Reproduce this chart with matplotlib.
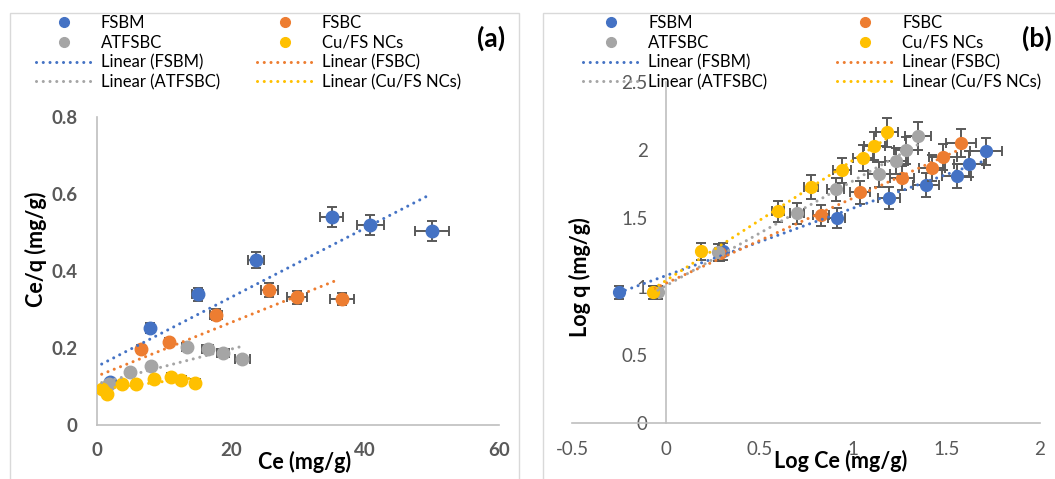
import numpy as np
import matplotlib
matplotlib.use('Agg')
import matplotlib.pyplot as plt
from matplotlib.lines import Line2D
from matplotlib.patches import Rectangle

plt.rcParams['font.family'] = ['Lato', 'DejaVu Sans']

W, H = 1055, 479

series_names = ['FSBM', 'FSBC', 'ATFSBC', 'Cu/FS NCs']
colours = ['#4472C4', '#ED7D31', '#A5A5A5', '#FFC000']
err_colour = '#595959'
err_frac = 0.05  # 5 % error bars, as in the sheet

###########
# (a) Ce vs Ce/q
###########
ce_fsbm = [1.9, 7.9, 15.0, 23.8, 35.0, 40.8, 50.0]
ceq_fsbm = [0.112, 0.252, 0.340, 0.429, 0.540, 0.519, 0.504]
ce_fsbc = [6.5, 10.7, 17.7, 25.7, 29.8, 36.6]
ceq_fsbc = [0.197, 0.216, 0.286, 0.351, 0.332, 0.327]
ce_atfsbc = [1.8, 4.9, 8.0, 13.4, 16.5, 18.8, 21.7]
ceq_atfsbc = [0.106, 0.138, 0.153, 0.203, 0.197, 0.187, 0.171]
ce_cufs = [0.7, 1.5, 3.7, 5.8, 8.5, 11.0, 12.6, 14.7]
ceq_cufs = [0.094, 0.081, 0.106, 0.106, 0.119, 0.125, 0.117, 0.109]

# trendlines
trend_slope_a = [0.00898, 0.00696, 0.0045, 0.0021]
trend_icpt_a = [0.152, 0.127, 0.107, 0.092]
trend_start_a = [0.7, 0.7, 0.7, 0.7]
trend_end_a = [49.9, 35.9, 21.7, 14.7]

xa_ticks = [0, 20, 40, 60]
xa_ticklabels = ['0', '20', '40', '60']
ya_ticks = [0, 0.2, 0.4, 0.6, 0.8]
ya_ticklabels = ['0', '0.2', '0.4', '0.6', '0.8']

###########
# (b) Log Ce vs Log q
###########
logce_fsbm = [-0.249, 0.307, 0.915, 1.193, 1.390, 1.556, 1.620, 1.712]
logq_fsbm = [0.960, 1.260, 1.502, 1.648, 1.744, 1.810, 1.897, 1.993]
logce_fsbc = [-0.06, 0.29, 0.830, 1.039, 1.263, 1.423, 1.482, 1.578]
logq_fsbc = [0.960, 1.250, 1.524, 1.692, 1.795, 1.868, 1.949, 2.051]
logce_atfsbc = [-0.041, 0.280, 0.702, 0.910, 1.140, 1.231, 1.284, 1.348]
logq_atfsbc = [0.960, 1.253, 1.538, 1.714, 1.824, 1.919, 2.000, 2.103]
logce_cufs = [-0.067, 0.189, 0.600, 0.777, 0.943, 1.055, 1.114, 1.183]
logq_cufs = [0.960, 1.260, 1.553, 1.729, 1.853, 1.941, 2.029, 2.132]

xb_ticks = [-0.5, 0, 0.5, 1, 1.5, 2]
xb_ticklabels = ['-0.5', '0', '0.5', '1', '1.5', '2']
yb_ticks = [0, 0.5, 1, 1.5, 2, 2.5]
yb_ticklabels = ['0', '0.5', '1', '1.5', '2', '2.5']

data_a = [(ce_fsbm, ceq_fsbm), (ce_fsbc, ceq_fsbc), (ce_atfsbc, ceq_atfsbc), (ce_cufs, ceq_cufs)]
data_b = [(logce_fsbm, logq_fsbm), (logce_fsbc, logq_fsbc), (logce_atfsbc, logq_atfsbc), (logce_cufs, logq_cufs)]

dotted = (0, (0.01, 2.2))

fig = plt.figure(figsize=(W / 100, H / 100), dpi=100)

# chart area borders
fig.patches.append(Rectangle((10 / W, 1 - 490 / H), 509 / W, 477 / H, transform=fig.transFigure,
                             fill=False, edgecolor='#d9d9d9', linewidth=1))
fig.patches.append(Rectangle((543 / W, 1 - 490 / H), 530 / W, 477 / H, transform=fig.transFigure,
                             fill=False, edgecolor='#d9d9d9', linewidth=1))

ax_a = fig.add_axes([97 / W, 1 - 425 / H, 402 / W, 308 / H])
ax_b = fig.add_axes([572 / W, 1 - 423 / H, 468 / W, 341 / H])

# panel (a)
for i, (x, y) in enumerate(data_a):
    x = np.array(x)
    y = np.array(y)
    ax_a.errorbar(x, y, xerr=err_frac * np.abs(x), yerr=err_frac * np.abs(y), fmt='o',
                  color=colours[i], ms=9, ecolor=err_colour, elinewidth=1.4, capsize=3.5,
                  capthick=1.4, zorder=3 + i)
for i in range(4):
    xs = np.array([trend_start_a[i], trend_end_a[i]])
    ax_a.plot(xs, trend_icpt_a[i] + trend_slope_a[i] * xs, ls=dotted, lw=2.2,
              color=colours[i], dash_capstyle='round', zorder=8)

ax_a.set_xlim(0, 60)
ax_a.set_ylim(0, 0.8)
ax_a.set_xticks(xa_ticks)
ax_a.set_xticklabels(xa_ticklabels, fontweight='bold')
ax_a.set_yticks(ya_ticks)
ax_a.set_yticklabels(ya_ticklabels, fontweight='bold')
ax_a.tick_params(length=0, labelsize=13.5, labelcolor=err_colour)
ax_a.tick_params(axis='x', pad=12)
ax_a.tick_params(axis='y', pad=14)
ax_a.set_xlabel('Ce (mg/g)', fontsize=15.5, fontweight='bold')
ax_a.xaxis.set_label_coords(0.517, -0.083)
ax_a.set_ylabel('Ce/q (mg/g)', fontsize=15.5, fontweight='bold')
ax_a.yaxis.set_label_coords(-0.125, 0.571)
for side in ['top', 'right']:
    ax_a.spines[side].set_visible(False)
for side in ['left', 'bottom']:
    ax_a.spines[side].set_color('#bfbfbf')
    ax_a.spines[side].set_linewidth(1.2)
ax_a.patch.set_alpha(0)

# panel (b)
for i, (x, y) in enumerate(data_b):
    x = np.array(x)
    y = np.array(y)
    ax_b.errorbar(x, y, xerr=err_frac * np.abs(x), yerr=err_frac * np.abs(y), fmt='o',
                  color=colours[i], ms=8.5, ecolor=err_colour, elinewidth=1.4, capsize=3.5,
                  capthick=1.4, zorder=3 + i)
    slope, icpt = np.polyfit(x, y, 1)
    xs = np.array([x.min(), x.max()])
    ax_b.plot(xs, icpt + slope * xs, ls=dotted, lw=2.2, color=colours[i],
              dash_capstyle='round', zorder=8)

ax_b.set_xlim(-0.5, 2)
ax_b.set_ylim(0, 2.5)
ax_b.set_xticks(xb_ticks)
ax_b.set_xticklabels(xb_ticklabels)
ax_b.set_yticks(yb_ticks)
ax_b.set_yticklabels(yb_ticklabels)
ax_b.tick_params(length=0, labelsize=13.5, labelcolor=err_colour)
ax_b.tick_params(axis='x', pad=13)
ax_b.tick_params(axis='y', pad=13)
ax_b.spines['left'].set_position(('data', 0))
ax_b.set_xlabel('Log Ce (mg/g)', fontsize=15.5, fontweight='bold')
ax_b.xaxis.set_label_coords(0.575, -0.08)
ax_b.set_ylabel('Log q (mg/g)', fontsize=15.5, fontweight='bold')
ax_b.yaxis.set_label_coords(0.04, 0.428)
for side in ['top', 'right']:
    ax_b.spines[side].set_visible(False)
for side in ['left', 'bottom']:
    ax_b.spines[side].set_color('#bfbfbf')
    ax_b.spines[side].set_linewidth(1.2)
ax_b.patch.set_alpha(0)

# legends
handles = [Line2D([], [], marker='o', ls='none', color=c, ms=7) for c in colours]
handles += [Line2D([], [], ls=dotted, lw=2.2, color=c, dash_capstyle='round') for c in colours]
labels = series_names + ['Linear (' + n + ')' for n in series_names]
order = [0, 2, 4, 6, 1, 3, 5, 7]
handles = [handles[k] for k in order]
labels = [labels[k] for k in order]

for x0, colsp in [(36, 2.2), (583, 4.2)]:
    fig.legend(handles, labels, ncol=2, loc='upper left', bbox_to_anchor=(x0 / W, 1 - 15 / H),
               frameon=False, fontsize=12, handlelength=3.4, handletextpad=0.5,
               columnspacing=colsp, labelspacing=0.22, borderpad=0, borderaxespad=0)

fig.text(491 / W, 1 - 38 / H, '(a)', fontsize=19, fontweight='bold', ha='center', va='center')
fig.text(1022 / W, 1 - 38 / H, '(b)', fontsize=19, fontweight='bold', ha='left', va='center')

fig.savefig('out.png', dpi=100)
